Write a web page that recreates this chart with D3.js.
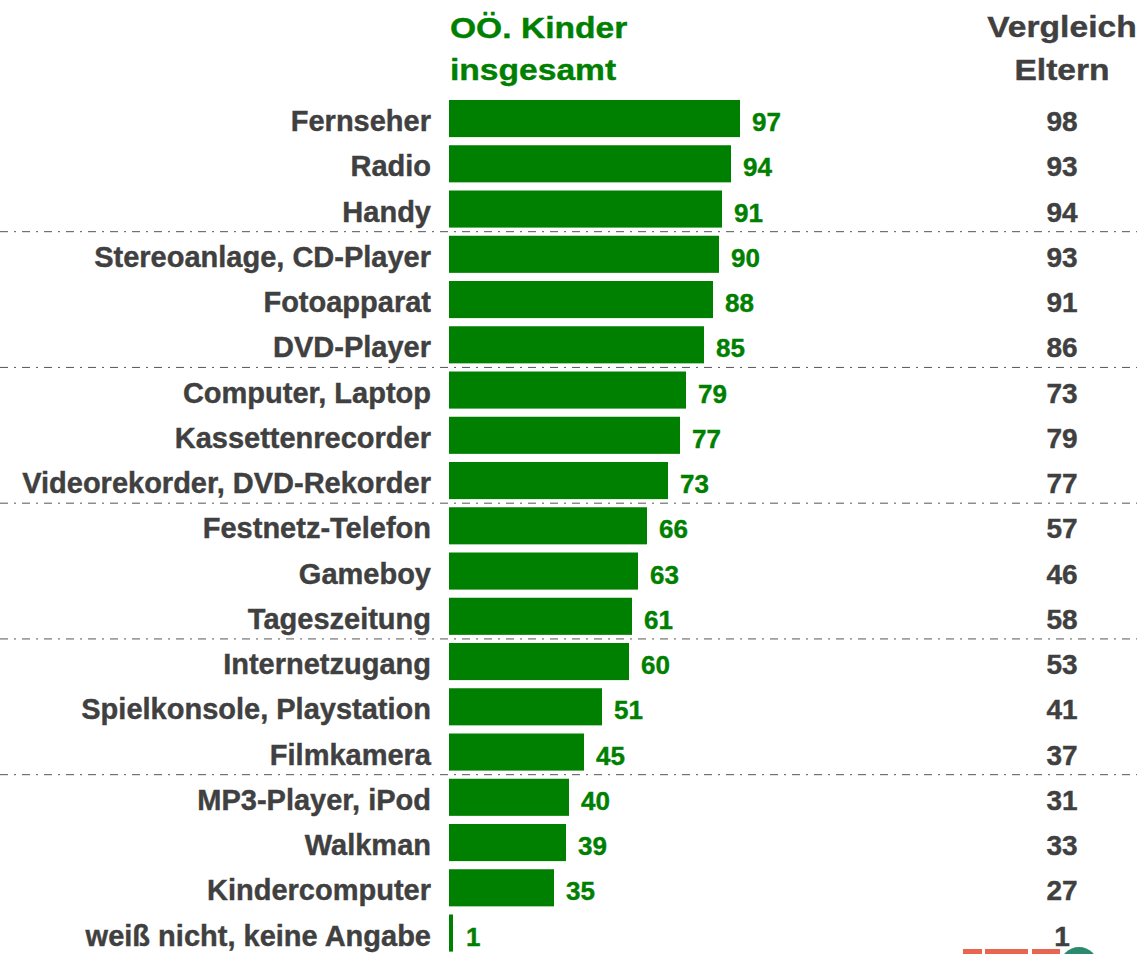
<!DOCTYPE html>
<html>
<head>
<meta charset="utf-8" />
<title>Geräte im Haushalt</title>
<style>
body { margin: 0; background: #fff; }
#graph { width: 1137px; height: 954px; }
text { font-family: "Liberation Sans", Arial, sans-serif; font-weight: bold; }
</style>
</head>
<body>
<div id="graph"></div>
<script src="https://d3js.org/d3.v7.min.js"></script>
<script>
var categories = ["Fernseher", "Radio", "Handy", "Stereoanlage, CD-Player", "Fotoapparat",
    "DVD-Player", "Computer, Laptop", "Kassettenrecorder", "Videorekorder, DVD-Rekorder",
    "Festnetz-Telefon", "Gameboy", "Tageszeitung", "Internetzugang",
    "Spielkonsole, Playstation", "Filmkamera", "MP3-Player, iPod", "Walkman",
    "Kindercomputer", "weiß nicht, keine Angabe"];
var kinder = [97, 94, 91, 90, 88, 85, 79, 77, 73, 66, 63, 61, 60, 51, 45, 40, 39, 35, 1];
var eltern = [98, 93, 94, 93, 91, 86, 73, 79, 77, 57, 46, 58, 53, 41, 37, 31, 33, 27, 1];
// separator lines after these rows
var groupEnds = [2, 5, 8, 11, 14];
var titleKinder = ["OÖ. Kinder", "insgesamt"];
var titleEltern = ["Vergleich", "Eltern"];

!(function(){
    "use strict"
    var width = 1137, height = 954;
    var green = "#008000", grey = "#404040";

    var svg = d3.select("#graph").append("svg")
        .attr("width", width).attr("height", height);

    var step = 45.25;
    var y0 = 100 - step * 0.09;
    var yScale = d3.scaleBand()
        .domain(categories)
        .range([y0, y0 + step * categories.length])
        .paddingInner(0.18)
        .paddingOuter(0.09);
    var xScale = d3.scaleLinear().domain([0, 100]).range([449, 749]);

    var rows = categories.map(function(c, i){ return {name: c, k: kinder[i], e: eltern[i]} });

    // headers
    svg.append("g").selectAll("text").data(titleKinder).enter().append("text")
        .attr("x", xScale(0) + 1)
        .attr("y", function(d, i){ return 38 + i * 42 })
        .attr("fill", green)
        .attr("stroke", green).attr("stroke-width", 0.4)
        .style("font-size", "30px")
        .attr("transform", "translate(" + (xScale(0)+1) + ",0) scale(1.12,1) translate(" + -(xScale(0)+1) + ",0)")
        .text(function(d){ return d });

    svg.append("g").selectAll("text").data(titleEltern).enter().append("text")
        .attr("x", 1062)
        .attr("y", function(d, i){ return 37 + i * 43 })
        .attr("text-anchor", "middle")
        .attr("fill", grey)
        .attr("stroke", grey).attr("stroke-width", 0.4)
        .style("font-size", "30px")
        .attr("transform", "translate(1062,0) scale(1.12,1) translate(-1062,0)")
        .text(function(d){ return d });

    // separators
    svg.append("g").selectAll("line").data(groupEnds).enter().append("line")
        .attr("x1", 0).attr("x2", width)
        .attr("y1", function(i){ return yScale(categories[i]) + yScale.bandwidth() + (yScale.step() - yScale.bandwidth()) / 2 })
        .attr("y2", function(i){ return yScale(categories[i]) + yScale.bandwidth() + (yScale.step() - yScale.bandwidth()) / 2 })
        .attr("stroke", "#555")
        .attr("stroke-width", 1)
        .attr("stroke-dasharray", "8,6,2,6");

    var row = svg.append("g").selectAll("g").data(rows).enter().append("g")
        .attr("transform", function(d){ return "translate(0," + yScale(d.name) + ")" });

    row.append("rect")
        .attr("x", xScale(0))
        .attr("y", 0)
        .attr("width", function(d){ return Math.max(4, xScale(d.k) - xScale(0)) })
        .attr("height", yScale.bandwidth())
        .attr("fill", green);

    row.append("text")
        .attr("x", xScale(0) - 18)
        .attr("y", 31)
        .attr("text-anchor", "end")
        .attr("fill", grey)
        .attr("stroke", grey).attr("stroke-width", 0.4)
        .style("font-size", "29px")
        .text(function(d){ return d.name });

    row.append("text")
        .attr("x", function(d){ return Math.max(xScale(d.k), xScale(0) + 5) + 12 })
        .attr("y", 31)
        .attr("fill", green)
        .attr("stroke", green).attr("stroke-width", 0.4)
        .style("font-size", "26px")
        .text(function(d){ return d.k });

    row.append("text")
        .attr("x", 1062)
        .attr("y", 31)
        .attr("text-anchor", "middle")
        .attr("fill", grey)
        .attr("stroke", grey).attr("stroke-width", 0.4)
        .style("font-size", "28px")
        .text(function(d){ return d.e });

    // logo fragment at the bottom edge
    var logo = svg.append("g");
    [[963, 19], [985, 43], [1032, 28]].forEach(function(r){
        logo.append("rect").attr("x", r[0]).attr("y", 949).attr("width", r[1]).attr("height", 8).attr("fill", "#e8664f");
    });
    logo.append("circle").attr("cx", 1079).attr("cy", 966).attr("r", 19).attr("fill", "#2a8a6e");
}());
</script>
</body>
</html>
